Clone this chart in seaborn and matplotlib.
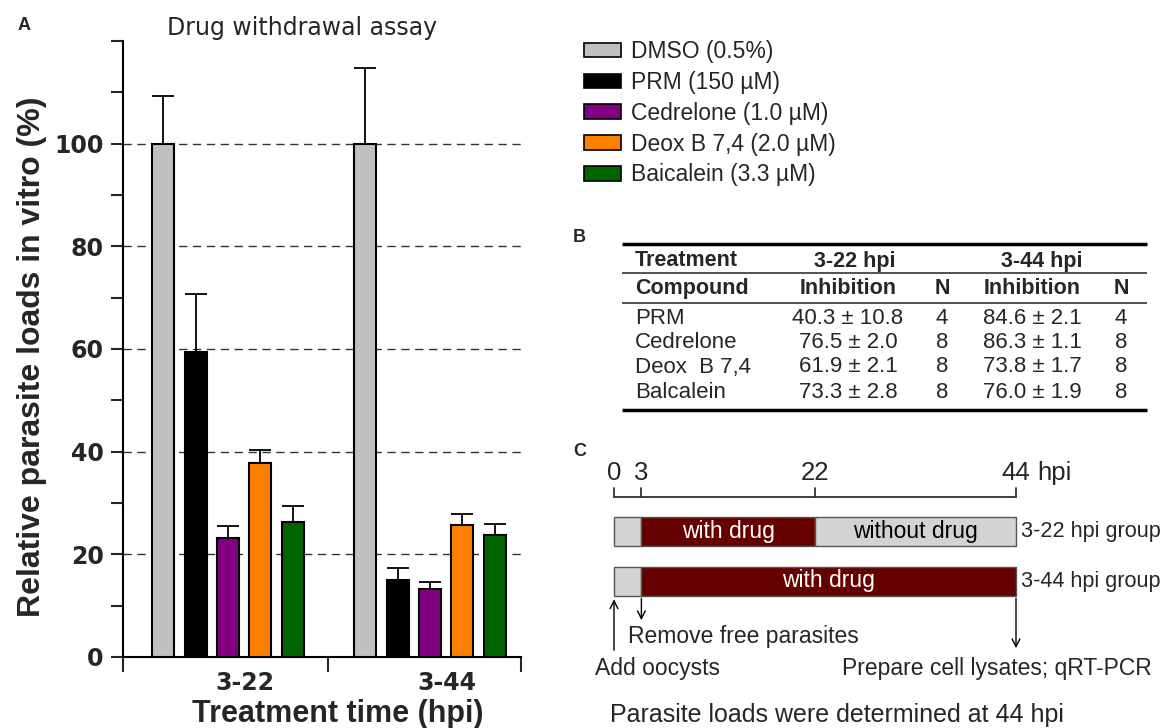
import numpy as np
import pandas as pd
import matplotlib
matplotlib.use("Agg")
import matplotlib.pyplot as plt
import matplotlib.transforms as mtrans
from matplotlib.patches import Patch
import seaborn as sns

# ---- panel A : relative parasite loads (%) ----
groups = ["3-22", "3-44"]
treatments = ["DMSO (0.5%)", "PRM (150 µM)", "Cedrelone (1.0 µM)",
              "Deox B 7,4 (2.0 µM)", "Baicalein (3.3 µM)"]
bar_colors = ["#c0c0c0", "#000000", "#800080", "#ff8000", "#006400"]
load_322 = [100, 59.5, 23.2, 37.8, 26.3]
err_322 = [9.2, 11.2, 2.3, 2.5, 3.2]
load_344 = [100, 15.0, 13.2, 25.7, 23.7]
err_344 = [14.8, 2.4, 1.5, 2.1, 2.3]

# ---- panel B : inhibition table ----
tbl_compounds = ["PRM", "Cedrelone", "Deox  B 7,4", "Balcalein"]
inh_322_mean = [40.3, 76.5, 61.9, 73.3]
inh_322_sd = [10.8, 2.0, 2.1, 2.8]
n_322 = [4, 8, 8, 8]
inh_344_mean = [84.6, 86.3, 73.8, 76.0]
inh_344_sd = [2.1, 1.1, 1.7, 1.9]
n_344 = [4, 8, 8, 8]

# ---- panel C : time line (hpi) ----
time_marks = [0, 3, 22, 44]
drug_start, drug_stop_322, end_hpi = 3, 22, 44

W, H = 1169, 728
ARIAL = "Liberation Sans"


def box(x0, y0, x1, y1):
    # pixel box (top-left origin) -> figure fraction rect
    return [x0 / W, 1 - y1 / H, (x1 - x0) / W, (y1 - y0) / H]


sns.set_style("white")
plt.rcParams["font.family"] = ["DejaVu Sans"]
fig = plt.figure(figsize=(W / 100, H / 100), dpi=100)

# ================= A =================
ax = fig.add_axes(box(123, 41, 521, 657))
df = pd.DataFrame({
    "group": np.repeat(groups, len(treatments)),
    "treatment": treatments * len(groups),
    "load": load_322 + load_344,
})
sns.barplot(data=df, x="group", y="load", hue="treatment", hue_order=treatments,
            palette=bar_colors, saturation=1, edgecolor="black", linewidth=1.5,
            gap=0.32, errorbar=None, legend=False, ax=ax, zorder=3)

bars = sorted(ax.patches, key=lambda p: p.get_x())
xs = [p.get_x() + p.get_width() / 2 for p in bars]
hs = [p.get_height() for p in bars]
errs = err_322 + err_344
ax.errorbar(xs, hs, yerr=[np.zeros(len(errs)), errs], fmt="none", ecolor="black",
            elinewidth=1.3, capsize=8, capthick=1.3, zorder=4)

ax.set_ylim(0, 120)
ax.set_xlim(-0.52, 1.45)
ax.set_yticks([0, 20, 40, 60, 80, 100])
ax.set_yticks([10, 30, 50, 70, 90, 110, 120], minor=True)
ax.set_xticks([0, 1])
ax.set_xticks([-0.52, 0.495, 1.45], minor=True)
ax.tick_params(axis="y", which="both", direction="out", length=9, width=1.5, left=True, pad=5)
ax.tick_params(axis="x", which="minor", direction="out", length=11, width=1.5, bottom=True)
ax.tick_params(axis="x", which="major", length=0, pad=10)
for lab in ax.get_yticklabels():
    lab.set_fontsize(17)
    lab.set_fontweight("bold")
shift = mtrans.ScaledTranslation(17 / 100, 0, fig.dpi_scale_trans)
for lab in ax.get_xticklabels():
    lab.set_fontsize(17)
    lab.set_fontweight("bold")
    lab.set_transform(lab.get_transform() + shift)
ax.yaxis.grid(True, which="major", linestyle=(0, (6, 4)), color="#333333", linewidth=1)
ax.set_axisbelow(True)
sns.despine(ax=ax)
for s in ["left", "bottom"]:
    ax.spines[s].set_linewidth(1.5)
    ax.spines[s].set_color("black")
ax.set_xlabel("Treatment time (hpi)", fontsize=22, fontweight="bold", family=ARIAL)
ax.xaxis.set_label_coords(0.54, -0.068)
ax.set_ylabel("Relative parasite loads in vitro (%)", fontsize=23, fontweight="bold",
              family=ARIAL)
ax.yaxis.set_label_coords(-0.19, 0.488)

fig.text(302 / W, 1 - 28 / H, "Drug withdrawal assay", ha="center", va="center", fontsize=17)
fig.text(18 / W, 1 - 25 / H, "A", ha="left", va="center", fontsize=13, fontweight="bold",
         family=ARIAL)

handles = [Patch(facecolor=c, edgecolor="black", linewidth=1.2) for c in bar_colors]
fig.legend(handles, treatments, loc="upper left", bbox_to_anchor=(575 / W, 1 - 31 / H),
           frameon=False, prop={"family": ARIAL, "size": 16.5}, handlelength=1.6,
           handleheight=0.6, handletextpad=0.45, labelspacing=0.34, borderaxespad=0)

# ================= B (table) =================
ov = fig.add_axes([0, 0, 1, 1])
ov.set_xlim(0, W)
ov.set_ylim(H, 0)
ov.axis("off")
ov.text(573, 238, "B", ha="left", va="center", fontsize=13, fontweight="bold", family=ARIAL)
tx0, tx1 = 622, 1147
ov.hlines([244, 410], tx0, tx1, color="black", linewidth=2.5)
ov.hlines([273, 303], tx0, tx1, color="#222222", linewidth=1.1)
col_x = [635, 848, 942, 1032, 1121]
tfs = 15.5
ov.text(col_x[0], 261, "Treatment", ha="left", va="center", fontsize=tfs, fontweight="bold", family=ARIAL)
ov.text(855, 261, "3-22 hpi", ha="center", va="center", fontsize=tfs, fontweight="bold", family=ARIAL)
ov.text(1042, 261, "3-44 hpi", ha="center", va="center", fontsize=tfs, fontweight="bold", family=ARIAL)
for j, t in enumerate(["Compound", "Inhibition", "N", "Inhibition", "N"]):
    ov.text(col_x[j], 288.5, t, ha="left" if j == 0 else "center", va="center",
            fontsize=tfs, fontweight="bold", family=ARIAL)
row_y = [318.5, 342.5, 367, 392]
for i, name in enumerate(tbl_compounds):
    cells = [name, f"{inh_322_mean[i]:.1f} ± {inh_322_sd[i]:.1f}", str(n_322[i]),
             f"{inh_344_mean[i]:.1f} ± {inh_344_sd[i]:.1f}", str(n_344[i])]
    for j, t in enumerate(cells):
        ov.text(col_x[j], row_y[i], t, ha="left" if j == 0 else "center", va="center",
                fontsize=16, family=ARIAL)

# ================= C (time line) =================
ov.text(573, 452, "C", ha="left", va="center", fontsize=13, fontweight="bold", family=ARIAL)
cx0, cx44 = 614, 1016
sc = (cx44 - cx0) / end_hpi
axc = fig.add_axes(box(560, 440, W, H))
axc.set_xlim(-(cx0 - 560) / sc, end_hpi + (W - cx44) / sc)
axc.set_ylim(H, 440)
axc.axis("off")

fs = 16.5
line_y = 497
axc.plot([time_marks[0], time_marks[-1]], [line_y, line_y], color="#333333", lw=1.3)
for t in time_marks:
    axc.plot([t, t], [line_y, line_y - 9], color="#333333", lw=1.3)
    axc.text(t, line_y - 12, f"{t}", ha="center", va="bottom", fontsize=18.5, family=ARIAL)
axc.annotate("hpi", (end_hpi, line_y - 12), xytext=(15, 0), textcoords="offset points",
             ha="left", va="bottom", fontsize=18.5, family=ARIAL)

gray, maroon = "#d3d3d3", "#660000"
row1, row2, bh = 531.5, 581, 29
axc.barh(row1, [drug_start, drug_stop_322 - drug_start, end_hpi - drug_stop_322],
         left=[0, drug_start, drug_stop_322], height=bh, color=[gray, maroon, gray],
         edgecolor="#555555", linewidth=1)
axc.barh(row2, [drug_start, end_hpi - drug_start], left=[0, drug_start], height=bh,
         color=[gray, maroon], edgecolor="#555555", linewidth=1)
axc.text((drug_start + drug_stop_322) / 2, row1, "with drug", color="white", ha="center",
         va="center", fontsize=fs, family=ARIAL)
axc.text((drug_stop_322 + end_hpi) / 2, row1, "without drug", color="black", ha="center",
         va="center", fontsize=fs, family=ARIAL)
axc.text((drug_start + end_hpi) / 2, row2, "with drug", color="white", ha="center",
         va="center", fontsize=fs, family=ARIAL)
axc.text(end_hpi + 0.6, row1, "3-22 hpi group", ha="left", va="center", fontsize=15.6, family=ARIAL)
axc.text(end_hpi + 0.6, row2, "3-44 hpi group", ha="left", va="center", fontsize=15.6, family=ARIAL)

arrow = dict(arrowstyle="->", color="black", lw=1, mutation_scale=14)
axc.annotate("", xy=(0, row2 + bh / 2 + 1), xytext=(0, 653), arrowprops=arrow)
axc.annotate("", xy=(drug_start, 623), xytext=(drug_start, row2 + bh / 2), arrowprops=arrow)
axc.annotate("", xy=(end_hpi, 651), xytext=(end_hpi, row2 + bh / 2), arrowprops=arrow)
axc.text(1.5, 637, "Remove free parasites", ha="left", va="center", fontsize=fs, family=ARIAL)
axc.text(-2.05, 669, "Add oocysts", ha="left", va="center", fontsize=fs, family=ARIAL)
axc.text(25.0, 669, "Prepare cell lysates; qRT-PCR", ha="left", va="center", fontsize=fs, family=ARIAL)
axc.text(-0.45, 715, "Parasite loads were determined at 44 hpi", ha="left", va="center",
         fontsize=18, family=ARIAL)

fig.savefig("out.png", dpi=100)
